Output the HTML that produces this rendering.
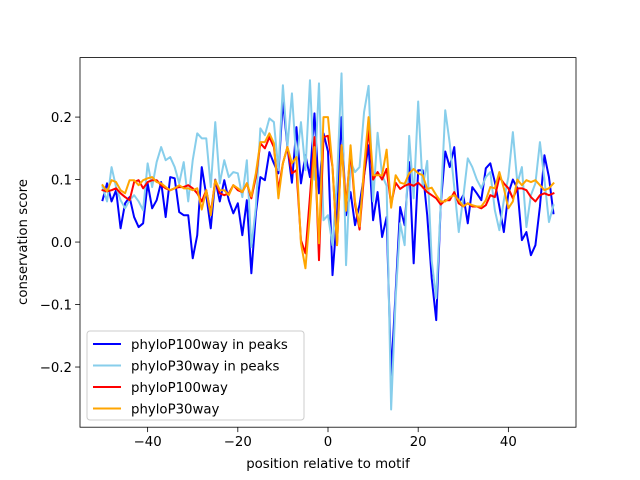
<!DOCTYPE html>
<html><head><meta charset="utf-8"><style>
html,body{margin:0;padding:0;background:#fff;}
svg{display:block;font-family:"DejaVu Sans","Liberation Sans",sans-serif;}
</style></head><body>
<svg id="chart" width="640" height="480" viewBox="0 0 640 480" xmlns="http://www.w3.org/2000/svg">
<rect width="640" height="480" fill="#fff"/>
<g id="plot"></g>
<rect x="80" y="57.6" width="496" height="369.6" fill="none" stroke="#000" stroke-width="0.8"/>
<g id="axes"></g>
<text x="328" y="468" font-size="13.3" text-anchor="middle">position relative to motif</text>
<text transform="translate(27,242) rotate(-90)" font-size="13.3" text-anchor="middle">conservation score</text>
<g id="legend"></g>
</svg>
<script>
const positions = [];
for (let i = -50; i <= 50; i++) positions.push(i);
const phyloP100Peaks = [0.067,0.094,0.065,0.083,0.022,0.062,0.072,0.04,0.024,0.03,0.094,0.054,0.067,0.096,0.04,0.104,0.102,0.048,0.043,0.043,-0.026,0.011,0.12,0.075,0.022,
0.1,0.065,0.099,0.067,0.046,0.062,0.011,0.067,-0.05,0.046,0.104,0.099,0.144,0.126,0.11,0.227,0.152,0.095,0.184,0.094,0.139,0.104,0.206,0.078,0.174,
0.145,-0.053,0.043,0.2,0.043,0.08,0.027,0.06,0.107,0.155,0.035,0.08,0.008,0.04,-0.213,-0.08,0.056,0.027,0.128,-0.034,0.115,0.115,0.043,-0.058,-0.125,0.06,0.145,
0.12,0.152,0.062,0.075,0.03,0.088,0.078,0.067,0.118,0.126,0.096,0.057,0.016,0.078,0.1,0.086,0.003,0.016,-0.021,-0.005,0.057,0.139,0.104,0.046];
const phyloP30Peaks = [0.088,0.065,0.12,0.088,0.067,0.054,0.067,0.075,0.065,0.051,0.126,0.088,0.128,0.152,0.131,0.136,0.12,0.094,0.128,0.065,0.131,0.174,0.166,0.166,0.088,
0.192,0.094,0.131,0.104,0.112,0.11,0.072,0.131,-0.008,0.056,0.182,0.171,0.198,0.192,0.115,0.251,0.152,0.238,0.126,0.192,0.115,0.259,0.1,0.254,0.035,
0.043,-0.005,0.1,0.27,-0.037,0.128,0.112,0.12,0.208,0.25,0.065,0.175,0.107,0.09,-0.268,-0.09,0.03,-0.005,0.17,0.07,0.225,0.087,0.13,-0.03,-0.09,0.06,0.211,
0.158,0.088,0.016,0.072,0.134,0.12,0.1,0.086,0.104,0.112,0.051,0.019,0.067,0.104,0.176,0.094,0.12,0.024,0.075,0.094,0.16,0.1,0.032,0.059];
const phyloP100 = [0.083,0.081,0.083,0.086,0.078,0.072,0.067,0.096,0.099,0.086,0.096,0.099,0.099,0.091,0.086,0.083,0.086,0.088,0.088,0.091,0.086,0.078,0.065,0.083,0.046,
0.099,0.078,0.075,0.078,0.091,0.083,0.08,0.094,0.07,0.104,0.158,0.15,0.168,0.152,0.083,0.126,0.152,0.11,0.115,0.003,-0.018,0.073,0.168,-0.029,0.168,
0.17,0.12,-0.005,0.155,0.06,0.145,0.06,0.02,0.107,0.18,0.1,0.112,0.1,0.117,0.06,0.095,0.085,0.09,0.093,0.09,0.095,0.088,0.08,0.075,0.07,0.06,0.067,
0.067,0.08,0.062,0.057,0.062,0.057,0.057,0.054,0.059,0.075,0.072,0.104,0.094,0.086,0.07,0.086,0.086,0.083,0.072,0.065,0.075,0.078,0.075,0.078];
const phyloP30 = [0.091,0.081,0.099,0.096,0.083,0.078,0.099,0.099,0.091,0.099,0.102,0.104,0.096,0.094,0.088,0.083,0.086,0.091,0.086,0.086,0.083,0.086,0.052,0.083,0.043,
0.099,0.083,0.083,0.075,0.091,0.086,0.08,0.094,0.073,0.11,0.16,0.16,0.174,0.158,0.07,0.126,0.152,0.126,0.136,-0.002,-0.042,0.046,0.152,-0.002,0.2,
0.2,0.12,-0.005,0.155,0.05,0.155,0.065,0.025,0.12,0.2,0.107,0.107,0.107,0.148,0.055,0.107,0.095,0.093,0.11,0.117,0.11,0.107,0.085,0.087,0.075,0.065,0.065,
0.072,0.075,0.067,0.057,0.062,0.059,0.057,0.057,0.067,0.088,0.086,0.112,0.086,0.054,0.065,0.1,0.091,0.099,0.096,0.099,0.091,0.083,0.086,0.094];
const seriesNames = ["phyloP100way in peaks","phyloP30way in peaks","phyloP100way","phyloP30way"];
const xTicks = [-40,-20,0,20,40];
const yTicks = [-0.2,-0.1,0.0,0.1,0.2];
const yTickLabels = ["\u22120.2","\u22120.1","0.0","0.1","0.2"];

const NS = "http://www.w3.org/2000/svg";
const X0=80, X1=576, Y0=57.6, Y1=427.2;
const xMin=-55, xMax=55, yMin=-0.2963, yMax=0.2952;
function xs(v){return X0+(v-xMin)/(xMax-xMin)*(X1-X0);}
function ys(v){return Y1-(v-yMin)/(yMax-yMin)*(Y1-Y0);}
function mk(tag, attrs){const e=document.createElementNS(NS,tag);for(const k in attrs)e.setAttribute(k,attrs[k]);return e;}

const plot=document.getElementById('plot');
const allSeries=[phyloP100Peaks,phyloP30Peaks,phyloP100,phyloP30];
const colors=["#0000ff","#87ceeb","#ff0000","#ffa500"];
const slugs=["line-phylop100-peaks","line-phylop30-peaks","line-phylop100","line-phylop30"];
allSeries.forEach((s,si)=>{
  const pts=s.map((v,i)=>xs(positions[i]).toFixed(2)+","+ys(v).toFixed(2)).join(" ");
  const pl=mk('polyline',{points:pts,fill:"none",stroke:colors[si],"stroke-width":"2","stroke-linejoin":"round","stroke-linecap":"square"});
  
  
  plot.appendChild(pl);
});

const axes=document.getElementById('axes');
xTicks.forEach(t=>{
  const x=xs(t);
  const ln=mk('line',{x1:x,x2:x,y1:Y1,y2:Y1+4.9,stroke:"#000","stroke-width":"0.8"});
  
  
  axes.appendChild(ln);
  const tx=mk('text',{x:x,y:Y1+19,"font-size":"13.3","text-anchor":"middle"});
  tx.textContent=t<0?"\u2212"+Math.abs(t):String(t);
  
  
  axes.appendChild(tx);
});
yTicks.forEach((t,i)=>{
  const y=ys(t);
  const ln=mk('line',{x1:X0-4.9,x2:X0,y1:y,y2:y,stroke:"#000","stroke-width":"0.8"});
  
  
  axes.appendChild(ln);
  const tx=mk('text',{x:X0-8,y:y+4.8,"font-size":"13.3","text-anchor":"end"});
  tx.textContent=yTickLabels[i];
  
  
  axes.appendChild(tx);
});

const lg=document.getElementById('legend');
const box=mk('rect',{x:87,y:331,width:217,height:89,rx:3,fill:"#fff","fill-opacity":"0.8",stroke:"#ccc","stroke-width":"1"});


lg.appendChild(box);
seriesNames.forEach((n,i)=>{
  const y=344+i*21.5;
  const ln=mk('line',{x1:93,x2:121,y1:y,y2:y,stroke:colors[i],"stroke-width":"2"});
  
  
  lg.appendChild(ln);
  const tx=mk('text',{x:131,y:y+4.8,"font-size":"13.3"});
  tx.textContent=n;
  
  
  lg.appendChild(tx);
});
</script>
</body></html>
